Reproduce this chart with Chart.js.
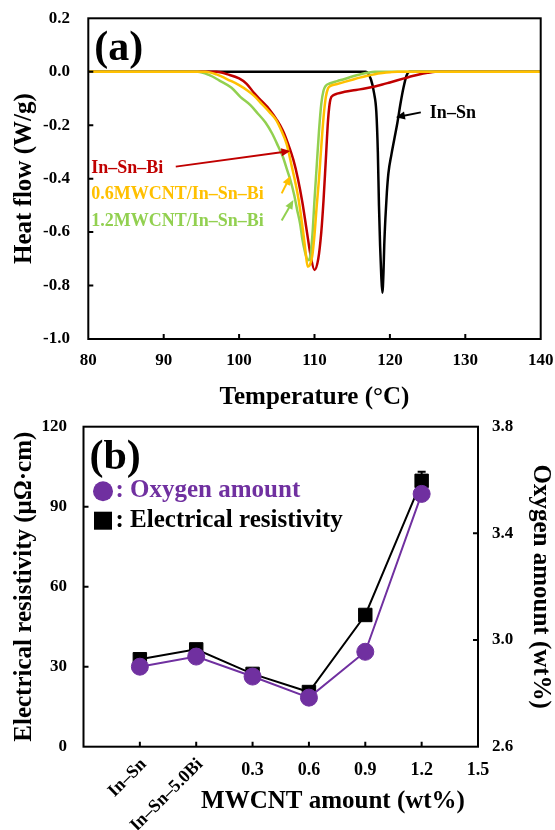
<!DOCTYPE html>
<html>
<head>
<meta charset="utf-8">
<script src="https://cdn.jsdelivr.net/npm/chart.js@4.4.1/dist/chart.umd.min.js"></script>
<style>
  html, body { margin: 0; padding: 0; background: #fff; }
  #wrap { position: relative; width: 555px; height: 830px; }
  canvas { position: absolute; left: 0; }
  #dsc { top: 0; }
  #res { top: 415px; }
</style>
</head>
<body>
<div id="wrap">
  <canvas id="dsc" width="555" height="415"></canvas>
  <canvas id="res" width="555" height="415"></canvas>
</div>
<script>
'use strict';

// (a) DSC heating curves, temperature (°C) vs heat flow (W/g)
var tempInSn = [80, 116.8, 117.5, 117.9, 118.2, 118.4, 118.55, 118.7, 118.85, 119, 119.15, 119.25, 119.4, 119.6, 119.8, 120.2, 120.6, 121, 121.4, 121.8, 122.2, 122.6, 140];
var flowInSn = [0, 0, -0.03, -0.08, -0.15, -0.3, -0.5, -0.65, -0.76, -0.827, -0.75, -0.65, -0.55, -0.45, -0.38, -0.31, -0.25, -0.19, -0.12, -0.06, -0.015, 0, 0];

var tempBi = [80, 97, 98.5, 100, 101, 102, 103, 104, 105, 105.8, 106.5, 107.2, 107.8, 108.4, 109, 109.5, 110, 110.5, 110.9, 111.2, 111.5, 111.8, 112.1, 112.5, 113, 114, 115, 116, 117, 118, 119, 120, 121, 122, 123, 124, 125, 126, 140];
var flowBi = [0, 0, -0.01, -0.025, -0.045, -0.08, -0.11, -0.14, -0.18, -0.22, -0.27, -0.33, -0.40, -0.49, -0.60, -0.69, -0.742, -0.70, -0.60, -0.48, -0.33, -0.18, -0.105, -0.088, -0.082, -0.075, -0.07, -0.066, -0.061, -0.055, -0.048, -0.04, -0.032, -0.024, -0.016, -0.009, -0.004, 0, 0];

var tempMw06 = [80, 95.5, 97, 98.8, 100, 101.1, 102, 103, 104, 104.9, 105.6, 106.3, 107, 107.5, 107.9, 108.5, 108.8, 109.1, 109.4, 109.7, 110, 110.3, 110.6, 110.9, 111.2, 111.5, 111.8, 112.2, 113, 114, 115, 116, 117, 118, 119, 120, 121, 140];
var flowMw06 = [0, 0, -0.01, -0.033, -0.05, -0.07, -0.09, -0.12, -0.15, -0.18, -0.22, -0.27, -0.356, -0.42, -0.48, -0.60, -0.67, -0.73, -0.722, -0.69, -0.61, -0.50, -0.40, -0.28, -0.17, -0.095, -0.062, -0.052, -0.046, -0.038, -0.03, -0.022, -0.015, -0.009, -0.005, -0.002, 0, 0];

var tempMw12 = [80, 94.5, 96, 97.4, 99, 100.2, 101.5, 102.5, 103.5, 104.4, 105.2, 105.8, 106.4, 106.8, 107.3, 107.7, 108.1, 108.4, 108.7, 109, 109.25, 109.5, 109.75, 110, 110.3, 110.6, 110.9, 111.2, 111.5, 112, 113, 114, 115, 116, 117, 118, 140];
var flowMw12 = [0, 0, -0.012, -0.033, -0.06, -0.095, -0.125, -0.157, -0.19, -0.232, -0.28, -0.318, -0.37, -0.405, -0.46, -0.517, -0.57, -0.628, -0.67, -0.70, -0.705, -0.68, -0.60, -0.48, -0.35, -0.22, -0.12, -0.07, -0.052, -0.044, -0.035, -0.027, -0.018, -0.01, -0.004, 0, 0];

// (b) resistivity and oxygen amount per sample
var sampleLabels = ['In–Sn', 'In–Sn–5.0Bi', '0.3', '0.6', '0.9', '1.2', '1.5'];
var resistivity = [32.8, 36.5, 27.3, 20.5, 49.4, 99.7];
var resistErr = [1.0, 1.0, 0.8, 0.8, 1.2, 3.4];
var oxygen = [2.90, 2.938, 2.863, 2.784, 2.956, 3.548];

var SERIF = '"Liberation Serif", "Times New Roman", serif';
var RED = '#C00000', ORANGE = '#FFC000', GREEN = '#92D050', PURPLE = '#7030A0';

Chart.defaults.font.family = SERIF;
Chart.defaults.font.weight = 'bold';
Chart.defaults.font.size = 17;
Chart.defaults.color = '#000';

function pairs(xs, ys) {
  return xs.map(function(x, i) { return { x: x, y: ys[i] }; });
}

function fixedWidth(w) { return function(s) { s.width = w; }; }
function fixedHeight(h) { return function(s) { s.height = h; }; }

function oneDecimal(v) {
  return Math.abs(v) < 1e-9 ? '0.0' : v.toFixed(1);
}

// hidden grid, but tickLength still pushes the labels away from the axis
function gapOnly(len) {
  return { display: false, drawTicks: true, tickLength: len };
}

function arrow(ctx, x0, y0, x1, y1, color) {
  var ang = Math.atan2(y1 - y0, x1 - x0), len = 9, half = 4;
  ctx.strokeStyle = color;
  ctx.fillStyle = color;
  ctx.lineWidth = 2;
  ctx.beginPath();
  ctx.moveTo(x0, y0);
  ctx.lineTo(x1 - Math.cos(ang) * len * 0.6, y1 - Math.sin(ang) * len * 0.6);
  ctx.stroke();
  ctx.beginPath();
  ctx.moveTo(x1, y1);
  ctx.lineTo(x1 - Math.cos(ang) * len - Math.sin(ang) * half, y1 - Math.sin(ang) * len + Math.cos(ang) * half);
  ctx.lineTo(x1 - Math.cos(ang) * len + Math.sin(ang) * half, y1 - Math.sin(ang) * len - Math.cos(ang) * half);
  ctx.closePath();
  ctx.fill();
}

// frame around the plot area and short inward ticks
function drawFrame(chart, xs, ys, len) {
  var ctx = chart.ctx, a = chart.chartArea;
  ctx.save();
  ctx.strokeStyle = '#000';
  ctx.lineWidth = 2;
  ctx.beginPath();
  xs.forEach(function(v) {
    var px = chart.scales.x.getPixelForValue(v);
    ctx.moveTo(px, a.bottom); ctx.lineTo(px, a.bottom - len);
  });
  ys.forEach(function(t) {
    var py = chart.scales[t[0]].getPixelForValue(t[1]);
    var edge = t[0] === 'y1' ? a.right : a.left;
    var dir = t[0] === 'y1' ? -1 : 1;
    ctx.moveTo(edge, py); ctx.lineTo(edge + dir * len, py);
  });
  ctx.stroke();
  ctx.strokeRect(a.left, a.top, a.right - a.left, a.bottom - a.top);
  ctx.restore();
}

// Labels in panel (a): text anchor and arrow, in data units
var dscNotes = [
  { text: 'In–Sn–Bi', color: RED, at: [80.4, -0.36], from: [91.6, -0.355], to: [106.8, -0.297] },
  { text: '0.6MWCNT/In–Sn–Bi', color: ORANGE, at: [80.4, -0.458], from: [105.65, -0.455], to: [106.8, -0.39] },
  { text: '1.2MWCNT/In–Sn–Bi', color: GREEN, at: [80.4, -0.56], from: [105.65, -0.557], to: [107.2, -0.48] },
  { text: 'In–Sn', color: '#000', at: [125.3, -0.155], from: [124.1, -0.152], to: [120.8, -0.17] }
];

var dscDecor = {
  id: 'dscDecor',
  afterDatasetsDraw: function(chart) {
    var ctx = chart.ctx, sx = chart.scales.x, sy = chart.scales.y, a = chart.chartArea;
    ctx.save();
    dscNotes.forEach(function(n) {
      arrow(ctx, sx.getPixelForValue(n.from[0]), sy.getPixelForValue(n.from[1]),
        sx.getPixelForValue(n.to[0]), sy.getPixelForValue(n.to[1]), n.color);
      ctx.fillStyle = n.color;
      ctx.font = 'bold 18px ' + SERIF;
      ctx.textAlign = 'left';
      ctx.textBaseline = 'middle';
      ctx.fillText(n.text, sx.getPixelForValue(n.at[0]), sy.getPixelForValue(n.at[1]));
    });
    ctx.fillStyle = '#000';
    ctx.font = 'bold 42px ' + SERIF;
    ctx.textBaseline = 'middle';
    ctx.fillText('(a)', a.left + 6, a.top + 31);
    ctx.restore();
  },
  afterDraw: function(chart) {
    drawFrame(chart, [90, 100, 110, 120, 130],
      [['y', -0.8], ['y', -0.6], ['y', -0.4], ['y', -0.2], ['y', 0]], 5);
  }
};

new Chart(document.getElementById('dsc'), {
  type: 'line',
  data: {
    datasets: [
      { label: '0.6MWCNT/In–Sn–Bi', data: pairs(tempMw06, flowMw06), borderColor: ORANGE },
      { label: '1.2MWCNT/In–Sn–Bi', data: pairs(tempMw12, flowMw12), borderColor: GREEN },
      { label: 'In–Sn–Bi', data: pairs(tempBi, flowBi), borderColor: RED },
      { label: 'In–Sn', data: pairs(tempInSn, flowInSn), borderColor: '#000' }
    ]
  },
  options: {
    responsive: false,
    animation: false,
    devicePixelRatio: 1,
    layout: { padding: { left: 0, right: 14.3, top: 18.3, bottom: 0 } },
    elements: {
      point: { radius: 0 },
      line: { borderWidth: 2.5, cubicInterpolationMode: 'monotone', fill: false }
    },
    plugins: { legend: { display: false }, tooltip: { enabled: false } },
    scales: {
      x: {
        type: 'linear', min: 80, max: 140,
        ticks: { stepSize: 10, maxRotation: 0, padding: 0 },
        grid: gapOnly(11),
        border: { display: false },
        title: { display: true, text: 'Temperature (°C)', font: { size: 25, weight: 'bold' }, padding: { top: 0, bottom: 2 } },
        afterFit: fixedHeight(76)
      },
      y: {
        min: -1.0, max: 0.2,
        ticks: { stepSize: 0.2, padding: 0, callback: oneDecimal },
        grid: gapOnly(18.3),
        border: { display: false },
        title: { display: true, text: 'Heat flow (W/g)', font: { size: 25, weight: 'bold' }, padding: { top: 10, bottom: 0 } },
        afterFit: fixedWidth(88.3)
      }
    }
  },
  plugins: [dscDecor]
});

// (b) decorations: error bars, custom x labels, legend and frame
var resDecor = {
  id: 'resDecor',
  beforeDatasetsDraw: function(chart) {
    var ctx = chart.ctx, sx = chart.scales.x, sy = chart.scales.y;
    ctx.save();
    ctx.strokeStyle = '#000';
    ctx.lineWidth = 2;
    ctx.beginPath();
    resistivity.forEach(function(v, i) {
      var px = sx.getPixelForValue(i + 1);
      var top = sy.getPixelForValue(v + resistErr[i]), bot = sy.getPixelForValue(v - resistErr[i]);
      ctx.moveTo(px, top); ctx.lineTo(px, bot);
      ctx.moveTo(px - 4, top); ctx.lineTo(px + 4, top);
      ctx.moveTo(px - 4, bot); ctx.lineTo(px + 4, bot);
    });
    ctx.stroke();
    ctx.restore();
  },
  afterDraw: function(chart) {
    var ctx = chart.ctx, sx = chart.scales.x, a = chart.chartArea;
    drawFrame(chart, [1, 2, 3, 4, 5, 6],
      [['y', 30], ['y', 60], ['y', 90], ['y1', 3.0], ['y1', 3.4]], 5);
    ctx.save();
    ctx.fillStyle = '#000';
    ctx.font = 'bold 18px ' + SERIF;
    ctx.textBaseline = 'middle';
    sampleLabels.forEach(function(lab, i) {
      var px = sx.getPixelForValue(i + 1);
      if (i < 2) {
        ctx.save();
        ctx.translate(px + 4, a.bottom + 15);
        ctx.rotate(-Math.PI / 4);
        ctx.textAlign = 'right';
        ctx.fillText(lab, 0, 0);
        ctx.restore();
      } else {
        ctx.textAlign = 'center';
        ctx.fillText(lab, px, a.bottom + 24);
      }
    });
    ctx.font = 'bold 25px ' + SERIF;
    ctx.textAlign = 'center';
    ctx.fillText('MWCNT amount (wt%)', 333, a.bottom + 55);

    ctx.textAlign = 'left';
    ctx.font = 'bold 42px ' + SERIF;
    ctx.fillText('(b)', a.left + 6, a.top + 31);

    // legend
    ctx.font = 'bold 25px ' + SERIF;
    ctx.fillStyle = PURPLE;
    ctx.beginPath();
    ctx.arc(a.left + 19.5, a.top + 64.5, 10, 0, Math.PI * 2);
    ctx.fill();
    ctx.fillText(': Oxygen amount', a.left + 32, a.top + 64);
    ctx.fillStyle = '#000';
    ctx.fillRect(a.left + 10.5, a.top + 85, 18, 18);
    ctx.fillText(': Electrical resistivity', a.left + 32, a.top + 94);
    ctx.restore();
  }
};

new Chart(document.getElementById('res'), {
  type: 'line',
  data: {
    datasets: [
      {
        label: 'Oxygen amount', yAxisID: 'y1',
        data: oxygen.map(function(v, i) { return { x: i + 1, y: v }; }),
        borderColor: PURPLE, backgroundColor: PURPLE, borderWidth: 2,
        pointStyle: 'circle', pointRadius: 8.5, pointBorderWidth: 1
      },
      {
        label: 'Electrical resistivity', yAxisID: 'y',
        data: resistivity.map(function(v, i) { return { x: i + 1, y: v }; }),
        borderColor: '#000', backgroundColor: '#000', borderWidth: 2,
        pointStyle: 'rect', pointRadius: 9.5, pointBorderWidth: 1
      }
    ]
  },
  options: {
    responsive: false,
    animation: false,
    devicePixelRatio: 1,
    layout: { padding: { left: 0, right: 0, top: 11.7, bottom: 0 } },
    plugins: { legend: { display: false }, tooltip: { enabled: false } },
    scales: {
      x: {
        type: 'linear', min: 0, max: 7,
        ticks: { display: false },
        grid: { display: false, drawTicks: false },
        border: { display: false },
        afterFit: fixedHeight(83.3)
      },
      y: {
        position: 'left', min: 0, max: 120,
        ticks: { stepSize: 30, padding: 0 },
        grid: gapOnly(16.5),
        border: { display: false },
        title: { display: true, text: 'Electrical resistivity (μΩ·cm)', font: { size: 25, weight: 'bold' }, padding: { top: 10, bottom: 0 } },
        afterFit: fixedWidth(83.5)
      },
      y1: {
        position: 'right', min: 2.6, max: 3.8,
        ticks: { stepSize: 0.4, padding: 0, callback: oneDecimal },
        grid: gapOnly(14),
        border: { display: false },
        title: { display: true, text: 'Oxygen amount (wt%)', font: { size: 25, weight: 'bold' }, padding: { top: 0, bottom: 0 } },
        afterFit: fixedWidth(77)
      }
    }
  },
  plugins: [resDecor]
});
</script>
</body>
</html>
